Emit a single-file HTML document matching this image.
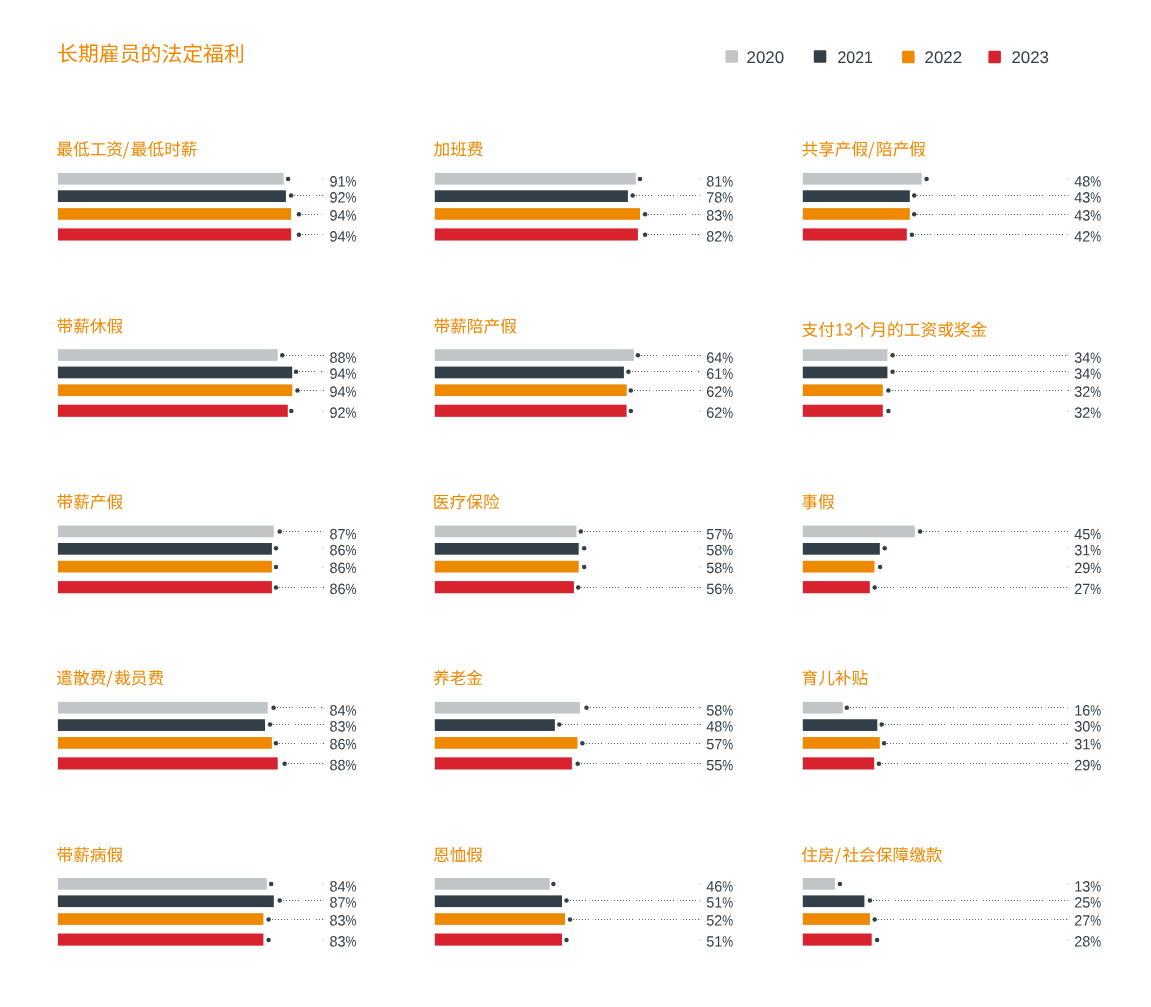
<!DOCTYPE html>
<html lang="zh-CN">
<head>
<meta charset="utf-8">
<title>长期雇员的法定福利</title>
<style>
html,body{margin:0;padding:0;background:#fff}
body{width:1151px;height:1007px;overflow:hidden}
svg{display:block;position:absolute;left:0;top:0}
text{font-family:"Liberation Sans","Noto Sans CJK SC",sans-serif}
.h1{font-size:20.87px;fill:#ee8903}
.h3{font-size:16.7px;fill:#ee8903}
.nat{font-size:16.7px}
.nat .num{font-size:17.5px}
.lg{font-size:16.9px;fill:#323e48}
.v{font-size:14.9px;fill:#323e48}
.dot{fill:#323e48}
.ln{stroke:#323e48;stroke-width:1;stroke-dasharray:1 2 1 2 1 2 1 2 1 2 1 6;fill:none;opacity:.82}
.lf{stroke:#323e48;stroke-width:1;stroke-dasharray:1 21;stroke-dashoffset:3;fill:none;opacity:.2}
.sl{font-family:"Noto Sans CJK SC",sans-serif;font-size:16.8px}
.tick{fill:#323e48;opacity:.22}
</style>
</head>
<body>
<svg width="1151" height="1007" viewBox="0 0 1151 1007">
<rect width="1151" height="1007" fill="#fff"/>
<text class="h1" transform="matrix(1 .001 0 1 57.1 61.1)">长期雇员的法定福利</text>
<g id="legend">
<rect x="725.5" y="50.3" width="12.5" height="12.5" rx="1.3" fill="#c1c5c8"/><text class="lg" transform="matrix(1 .001 0 1 746.5 63)">2020</text>
<rect x="813.8" y="50.3" width="12.5" height="12.5" rx="1.3" fill="#323e48"/><text class="lg" transform="matrix(0.9468 .001 0 1 837.4 63)">2021</text>
<rect x="902.1" y="50.7" width="12.5" height="12.5" rx="1.3" fill="#ee8903"/><text class="lg" transform="matrix(1 .001 0 1 924.5 63)">2022</text>
<rect x="988.4" y="50.7" width="12.5" height="12.5" rx="1.3" fill="#d8232f"/><text class="lg" transform="matrix(1 .001 0 1 1011.4 63)">2023</text>
</g>
<g class="chart">
<text class="h3" transform="matrix(1 .001 0 1 56.3 155.2)">最低工资<tspan class="sl" dx="-0.2">/</tspan><tspan x="74.5">最低时薪</tspan></text>
<rect x="57.9" y="172.9" width="225.8" height="11.7" fill="#c1c5c8"/><rect class="tick" x="322.3" y="178.2" width="1.5" height="1.5"/><circle class="dot" cx="288.1" cy="178.9" r="2.25"/><text class="v" transform="matrix(0.9714 .001 0 1 329.4 186.45)">91</text><text class="v" transform="matrix(0.8227 .001 0 1 345.5 186.45)">%</text>
<rect x="57.9" y="190.3" width="228" height="11.7" fill="#323e48"/><path class="ln" d="M294 195.5H324"/><path class="lf" d="M294 195.5H324"/><rect class="tick" x="322.3" y="194.8" width="1.5" height="1.5"/><circle class="dot" cx="291.1" cy="195.5" r="2.25"/><text class="v" transform="matrix(0.9714 .001 0 1 329.4 202.5)">92</text><text class="v" transform="matrix(0.8227 .001 0 1 345.5 202.5)">%</text>
<rect x="57.9" y="208.1" width="233.2" height="11.7" fill="#ee8903"/><path class="ln" d="M302 214.5H324"/><path class="lf" d="M302 214.5H324"/><rect class="tick" x="322.3" y="213.6" width="1.5" height="1.5"/><circle class="dot" cx="298.9" cy="214.3" r="2.25"/><text class="v" transform="matrix(0.9714 .001 0 1 329.4 220.4)">94</text><text class="v" transform="matrix(0.8227 .001 0 1 345.5 220.4)">%</text>
<rect x="57.9" y="228.4" width="233.2" height="12.15" fill="#d8232f"/><path class="ln" d="M302 234.5H324"/><path class="lf" d="M302 234.5H324"/><rect class="tick" x="322.3" y="234.1" width="1.5" height="1.5"/><circle class="dot" cx="298.9" cy="234.8" r="2.25"/><text class="v" transform="matrix(0.9714 .001 0 1 329.4 241.4)">94</text><text class="v" transform="matrix(0.8227 .001 0 1 345.5 241.4)">%</text>
</g>
<g class="chart">
<text class="h3" transform="matrix(1 .001 0 1 433.45 155.2)">加班费</text>
<rect x="434.8" y="172.9" width="201" height="11.7" fill="#c1c5c8"/><rect class="tick" x="699" y="178.2" width="1.5" height="1.5"/><circle class="dot" cx="640" cy="178.9" r="2.25"/><text class="v" transform="matrix(0.9714 .001 0 1 706.2 186.45)">81</text><text class="v" transform="matrix(0.8227 .001 0 1 722.3 186.45)">%</text>
<rect x="434.8" y="190.3" width="193.1" height="11.7" fill="#323e48"/><path class="ln" d="M636 195.5H701"/><path class="lf" d="M636 195.5H701"/><rect class="tick" x="699" y="194.8" width="1.5" height="1.5"/><circle class="dot" cx="632.7" cy="195.5" r="2.25"/><text class="v" transform="matrix(0.9714 .001 0 1 706.2 202.5)">78</text><text class="v" transform="matrix(0.8227 .001 0 1 722.3 202.5)">%</text>
<rect x="434.8" y="208.1" width="205.2" height="11.7" fill="#ee8903"/><path class="ln" d="M648 214.5H701"/><path class="lf" d="M648 214.5H701"/><rect class="tick" x="699" y="213.6" width="1.5" height="1.5"/><circle class="dot" cx="645.1" cy="214.3" r="2.25"/><text class="v" transform="matrix(0.9714 .001 0 1 706.2 220.4)">83</text><text class="v" transform="matrix(0.8227 .001 0 1 722.3 220.4)">%</text>
<rect x="434.8" y="228.4" width="203.1" height="12.15" fill="#d8232f"/><path class="ln" d="M648 234.5H701"/><path class="lf" d="M648 234.5H701"/><rect class="tick" x="699" y="234.1" width="1.5" height="1.5"/><circle class="dot" cx="645.1" cy="234.8" r="2.25"/><text class="v" transform="matrix(0.9714 .001 0 1 706.2 241.4)">82</text><text class="v" transform="matrix(0.8227 .001 0 1 722.3 241.4)">%</text>
</g>
<g class="chart">
<text class="h3" transform="matrix(1 .001 0 1 801.45 155.2)">共享产假<tspan class="sl" dx="-0.2">/</tspan><tspan x="74.5">陪产假</tspan></text>
<rect x="802.8" y="172.9" width="118.8" height="11.7" fill="#c1c5c8"/><rect class="tick" x="1067" y="178.2" width="1.5" height="1.5"/><circle class="dot" cx="926.6" cy="178.9" r="2.25"/><text class="v" transform="matrix(0.9714 .001 0 1 1074.2 186.45)">48</text><text class="v" transform="matrix(0.8227 .001 0 1 1090.3 186.45)">%</text>
<rect x="802.8" y="190.3" width="107" height="11.7" fill="#323e48"/><path class="ln" d="M917 195.5H1069"/><path class="lf" d="M917 195.5H1069"/><rect class="tick" x="1067" y="194.8" width="1.5" height="1.5"/><circle class="dot" cx="914.2" cy="195.5" r="2.25"/><text class="v" transform="matrix(0.9714 .001 0 1 1074.2 202.5)">43</text><text class="v" transform="matrix(0.8227 .001 0 1 1090.3 202.5)">%</text>
<rect x="802.8" y="208.1" width="107" height="11.7" fill="#ee8903"/><path class="ln" d="M917 214.5H1069"/><path class="lf" d="M917 214.5H1069"/><rect class="tick" x="1067" y="213.6" width="1.5" height="1.5"/><circle class="dot" cx="914.2" cy="214.3" r="2.25"/><text class="v" transform="matrix(0.9714 .001 0 1 1074.2 220.4)">43</text><text class="v" transform="matrix(0.8227 .001 0 1 1090.3 220.4)">%</text>
<rect x="802.8" y="228.4" width="104" height="12.15" fill="#d8232f"/><path class="ln" d="M915 234.5H1069"/><path class="lf" d="M915 234.5H1069"/><rect class="tick" x="1067" y="234.1" width="1.5" height="1.5"/><circle class="dot" cx="911.9" cy="234.8" r="2.25"/><text class="v" transform="matrix(0.9714 .001 0 1 1074.2 241.4)">42</text><text class="v" transform="matrix(0.8227 .001 0 1 1090.3 241.4)">%</text>
</g>
<g class="chart">
<text class="h3" transform="matrix(1 .001 0 1 56.5 332.15)">带薪休假</text>
<rect x="57.9" y="349.2" width="219.8" height="11.7" fill="#c1c5c8"/><path class="ln" d="M286 355.5H324"/><path class="lf" d="M286 355.5H324"/><rect class="tick" x="322.3" y="354.5" width="1.5" height="1.5"/><circle class="dot" cx="282.3" cy="355.2" r="2.25"/><text class="v" transform="matrix(0.9714 .001 0 1 329.4 362.75)">88</text><text class="v" transform="matrix(0.8227 .001 0 1 345.5 362.75)">%</text>
<rect x="57.9" y="366.6" width="234.3" height="11.7" fill="#323e48"/><path class="ln" d="M299 371.5H324"/><path class="lf" d="M299 371.5H324"/><rect class="tick" x="322.3" y="371.1" width="1.5" height="1.5"/><circle class="dot" cx="296" cy="371.8" r="2.25"/><text class="v" transform="matrix(0.9714 .001 0 1 329.4 378.8)">94</text><text class="v" transform="matrix(0.8227 .001 0 1 345.5 378.8)">%</text>
<rect x="57.9" y="384.4" width="234.4" height="11.7" fill="#ee8903"/><path class="ln" d="M301 390.5H324"/><path class="lf" d="M301 390.5H324"/><rect class="tick" x="322.3" y="389.9" width="1.5" height="1.5"/><circle class="dot" cx="297.5" cy="390.6" r="2.25"/><text class="v" transform="matrix(0.9714 .001 0 1 329.4 396.7)">94</text><text class="v" transform="matrix(0.8227 .001 0 1 345.5 396.7)">%</text>
<rect x="57.9" y="404.7" width="229.9" height="12.15" fill="#d8232f"/><rect class="tick" x="322.3" y="410.4" width="1.5" height="1.5"/><circle class="dot" cx="291.3" cy="411.1" r="2.25"/><text class="v" transform="matrix(0.9714 .001 0 1 329.4 417.7)">92</text><text class="v" transform="matrix(0.8227 .001 0 1 345.5 417.7)">%</text>
</g>
<g class="chart">
<text class="h3" transform="matrix(1 .001 0 1 433.45 332.15)">带薪陪产假</text>
<rect x="434.8" y="349.2" width="199.1" height="11.7" fill="#c1c5c8"/><path class="ln" d="M641 355.5H701"/><path class="lf" d="M641 355.5H701"/><rect class="tick" x="699" y="354.5" width="1.5" height="1.5"/><circle class="dot" cx="637.9" cy="355.2" r="2.25"/><text class="v" transform="matrix(0.9714 .001 0 1 706.2 362.75)">64</text><text class="v" transform="matrix(0.8227 .001 0 1 722.3 362.75)">%</text>
<rect x="434.8" y="366.6" width="189.1" height="11.7" fill="#323e48"/><path class="ln" d="M632 371.5H701"/><path class="lf" d="M632 371.5H701"/><rect class="tick" x="699" y="371.1" width="1.5" height="1.5"/><circle class="dot" cx="628.4" cy="371.8" r="2.25"/><text class="v" transform="matrix(0.9714 .001 0 1 706.2 378.8)">61</text><text class="v" transform="matrix(0.8227 .001 0 1 722.3 378.8)">%</text>
<rect x="434.8" y="384.4" width="191.9" height="11.7" fill="#ee8903"/><path class="ln" d="M634 390.5H701"/><path class="lf" d="M634 390.5H701"/><rect class="tick" x="699" y="389.9" width="1.5" height="1.5"/><circle class="dot" cx="630.8" cy="390.6" r="2.25"/><text class="v" transform="matrix(0.9714 .001 0 1 706.2 396.7)">62</text><text class="v" transform="matrix(0.8227 .001 0 1 722.3 396.7)">%</text>
<rect x="434.8" y="404.7" width="191.8" height="12.15" fill="#d8232f"/><rect class="tick" x="699" y="410.4" width="1.5" height="1.5"/><circle class="dot" cx="630.8" cy="411.1" r="2.25"/><text class="v" transform="matrix(0.9714 .001 0 1 706.2 417.7)">62</text><text class="v" transform="matrix(0.8227 .001 0 1 722.3 417.7)">%</text>
</g>
<g class="chart">
<g class="h3 nat"><text transform="matrix(1 .001 0 1 801.6 335.65)">支付</text><text class="num" transform="matrix(.9 .001 0 1 835.3 335.55)">13</text><text transform="matrix(1 .001 0 1 853.7 335.65)">个月的工资或奖金</text></g>
<rect x="802.8" y="349.2" width="84.6" height="11.7" fill="#c1c5c8"/><path class="ln" d="M896 355.5H1069"/><path class="lf" d="M896 355.5H1069"/><rect class="tick" x="1067" y="354.5" width="1.5" height="1.5"/><circle class="dot" cx="892.6" cy="355.2" r="2.25"/><text class="v" transform="matrix(0.9714 .001 0 1 1074.2 362.75)">34</text><text class="v" transform="matrix(0.8227 .001 0 1 1090.3 362.75)">%</text>
<rect x="802.8" y="366.6" width="84.6" height="11.7" fill="#323e48"/><path class="ln" d="M896 371.5H1069"/><path class="lf" d="M896 371.5H1069"/><rect class="tick" x="1067" y="371.1" width="1.5" height="1.5"/><circle class="dot" cx="892.6" cy="371.8" r="2.25"/><text class="v" transform="matrix(0.9714 .001 0 1 1074.2 378.8)">34</text><text class="v" transform="matrix(0.8227 .001 0 1 1090.3 378.8)">%</text>
<rect x="802.8" y="384.4" width="80" height="11.7" fill="#ee8903"/><path class="ln" d="M892 390.5H1069"/><path class="lf" d="M892 390.5H1069"/><rect class="tick" x="1067" y="389.9" width="1.5" height="1.5"/><circle class="dot" cx="888.4" cy="390.6" r="2.25"/><text class="v" transform="matrix(0.9714 .001 0 1 1074.2 396.7)">32</text><text class="v" transform="matrix(0.8227 .001 0 1 1090.3 396.7)">%</text>
<rect x="802.8" y="404.7" width="80" height="12.15" fill="#d8232f"/><rect class="tick" x="1067" y="410.4" width="1.5" height="1.5"/><circle class="dot" cx="888.4" cy="411.1" r="2.25"/><text class="v" transform="matrix(0.9714 .001 0 1 1074.2 417.7)">32</text><text class="v" transform="matrix(0.8227 .001 0 1 1090.3 417.7)">%</text>
</g>
<g class="chart">
<text class="h3" transform="matrix(1 .001 0 1 56.5 507.95)">带薪产假</text>
<rect x="57.9" y="525.6" width="215.9" height="11.7" fill="#c1c5c8"/><path class="ln" d="M283 531.5H324"/><path class="lf" d="M283 531.5H324"/><rect class="tick" x="322.3" y="530.9" width="1.5" height="1.5"/><circle class="dot" cx="279.7" cy="531.6" r="2.25"/><text class="v" transform="matrix(0.9714 .001 0 1 329.4 539.15)">87</text><text class="v" transform="matrix(0.8227 .001 0 1 345.5 539.15)">%</text>
<rect x="57.9" y="543" width="214" height="11.7" fill="#323e48"/><rect class="tick" x="322.3" y="547.5" width="1.5" height="1.5"/><circle class="dot" cx="276" cy="548.2" r="2.25"/><text class="v" transform="matrix(0.9714 .001 0 1 329.4 555.2)">86</text><text class="v" transform="matrix(0.8227 .001 0 1 345.5 555.2)">%</text>
<rect x="57.9" y="560.8" width="214" height="11.7" fill="#ee8903"/><rect class="tick" x="322.3" y="566.3" width="1.5" height="1.5"/><circle class="dot" cx="276" cy="567" r="2.25"/><text class="v" transform="matrix(0.9714 .001 0 1 329.4 573.1)">86</text><text class="v" transform="matrix(0.8227 .001 0 1 345.5 573.1)">%</text>
<rect x="57.9" y="581.1" width="214" height="12.15" fill="#d8232f"/><path class="ln" d="M279 587.5H324"/><path class="lf" d="M279 587.5H324"/><rect class="tick" x="322.3" y="586.8" width="1.5" height="1.5"/><circle class="dot" cx="276" cy="587.5" r="2.25"/><text class="v" transform="matrix(0.9714 .001 0 1 329.4 594.1)">86</text><text class="v" transform="matrix(0.8227 .001 0 1 345.5 594.1)">%</text>
</g>
<g class="chart">
<text class="h3" transform="matrix(1 .001 0 1 432.85 507.95)">医疗保险</text>
<rect x="434.8" y="525.6" width="141.6" height="11.7" fill="#c1c5c8"/><path class="ln" d="M584 531.5H701"/><path class="lf" d="M584 531.5H701"/><rect class="tick" x="699" y="530.9" width="1.5" height="1.5"/><circle class="dot" cx="580.8" cy="531.6" r="2.25"/><text class="v" transform="matrix(0.9714 .001 0 1 706.2 539.15)">57</text><text class="v" transform="matrix(0.8227 .001 0 1 722.3 539.15)">%</text>
<rect x="434.8" y="543" width="143.9" height="11.7" fill="#323e48"/><rect class="tick" x="699" y="547.5" width="1.5" height="1.5"/><circle class="dot" cx="584.2" cy="548.2" r="2.25"/><text class="v" transform="matrix(0.9714 .001 0 1 706.2 555.2)">58</text><text class="v" transform="matrix(0.8227 .001 0 1 722.3 555.2)">%</text>
<rect x="434.8" y="560.8" width="143.9" height="11.7" fill="#ee8903"/><rect class="tick" x="699" y="566.3" width="1.5" height="1.5"/><circle class="dot" cx="584.2" cy="567" r="2.25"/><text class="v" transform="matrix(0.9714 .001 0 1 706.2 573.1)">58</text><text class="v" transform="matrix(0.8227 .001 0 1 722.3 573.1)">%</text>
<rect x="434.8" y="581.1" width="139.1" height="12.15" fill="#d8232f"/><path class="ln" d="M581 587.5H701"/><path class="lf" d="M581 587.5H701"/><rect class="tick" x="699" y="586.8" width="1.5" height="1.5"/><circle class="dot" cx="578.2" cy="587.5" r="2.25"/><text class="v" transform="matrix(0.9714 .001 0 1 706.2 594.1)">56</text><text class="v" transform="matrix(0.8227 .001 0 1 722.3 594.1)">%</text>
</g>
<g class="chart">
<text class="h3" transform="matrix(1 .001 0 1 801.3 507.95)">事假</text>
<rect x="802.8" y="525.6" width="111.9" height="11.7" fill="#c1c5c8"/><path class="ln" d="M923 531.5H1069"/><path class="lf" d="M923 531.5H1069"/><rect class="tick" x="1067" y="530.9" width="1.5" height="1.5"/><circle class="dot" cx="920.1" cy="531.6" r="2.25"/><text class="v" transform="matrix(0.9714 .001 0 1 1074.2 539.15)">45</text><text class="v" transform="matrix(0.8227 .001 0 1 1090.3 539.15)">%</text>
<rect x="802.8" y="543" width="77" height="11.7" fill="#323e48"/><rect class="tick" x="1067" y="547.5" width="1.5" height="1.5"/><circle class="dot" cx="884.7" cy="548.2" r="2.25"/><text class="v" transform="matrix(0.9714 .001 0 1 1074.2 555.2)">31</text><text class="v" transform="matrix(0.8227 .001 0 1 1090.3 555.2)">%</text>
<rect x="802.8" y="560.8" width="71.7" height="11.7" fill="#ee8903"/><rect class="tick" x="1067" y="566.3" width="1.5" height="1.5"/><circle class="dot" cx="880.1" cy="567" r="2.25"/><text class="v" transform="matrix(0.9714 .001 0 1 1074.2 573.1)">29</text><text class="v" transform="matrix(0.8227 .001 0 1 1090.3 573.1)">%</text>
<rect x="802.8" y="581.1" width="67" height="12.15" fill="#d8232f"/><path class="ln" d="M878 587.5H1069"/><path class="lf" d="M878 587.5H1069"/><rect class="tick" x="1067" y="586.8" width="1.5" height="1.5"/><circle class="dot" cx="874.7" cy="587.5" r="2.25"/><text class="v" transform="matrix(0.9714 .001 0 1 1074.2 594.1)">27</text><text class="v" transform="matrix(0.8227 .001 0 1 1090.3 594.1)">%</text>
</g>
<g class="chart">
<text class="h3" transform="matrix(1 .001 0 1 56.3 683.95)">遣散费<tspan class="sl" dx="-0.2">/</tspan><tspan x="57.8">裁员费</tspan></text>
<rect x="57.9" y="701.85" width="209.9" height="11.7" fill="#c1c5c8"/><path class="ln" d="M277 707.5H324"/><path class="lf" d="M277 707.5H324"/><rect class="tick" x="322.3" y="707.15" width="1.5" height="1.5"/><circle class="dot" cx="273.6" cy="707.85" r="2.25"/><text class="v" transform="matrix(0.9714 .001 0 1 329.4 715.4)">84</text><text class="v" transform="matrix(0.8227 .001 0 1 345.5 715.4)">%</text>
<rect x="57.9" y="719.25" width="207.1" height="11.7" fill="#323e48"/><path class="ln" d="M273 724.5H324"/><path class="lf" d="M273 724.5H324"/><rect class="tick" x="322.3" y="723.75" width="1.5" height="1.5"/><circle class="dot" cx="270" cy="724.45" r="2.25"/><text class="v" transform="matrix(0.9714 .001 0 1 329.4 731.45)">83</text><text class="v" transform="matrix(0.8227 .001 0 1 345.5 731.45)">%</text>
<rect x="57.9" y="737.05" width="214" height="11.7" fill="#ee8903"/><path class="ln" d="M279 743.5H324"/><path class="lf" d="M279 743.5H324"/><rect class="tick" x="322.3" y="742.55" width="1.5" height="1.5"/><circle class="dot" cx="275.9" cy="743.25" r="2.25"/><text class="v" transform="matrix(0.9714 .001 0 1 329.4 749.35)">86</text><text class="v" transform="matrix(0.8227 .001 0 1 345.5 749.35)">%</text>
<rect x="57.9" y="757.35" width="219.8" height="12.15" fill="#d8232f"/><path class="ln" d="M288 763.5H324"/><path class="lf" d="M288 763.5H324"/><rect class="tick" x="322.3" y="763.05" width="1.5" height="1.5"/><circle class="dot" cx="284.6" cy="763.75" r="2.25"/><text class="v" transform="matrix(0.9714 .001 0 1 329.4 770.35)">88</text><text class="v" transform="matrix(0.8227 .001 0 1 345.5 770.35)">%</text>
</g>
<g class="chart">
<text class="h3" transform="matrix(1 .001 0 1 433 683.95)">养老金</text>
<rect x="434.8" y="701.85" width="145.1" height="11.7" fill="#c1c5c8"/><path class="ln" d="M590 707.5H701"/><path class="lf" d="M590 707.5H701"/><rect class="tick" x="699" y="707.15" width="1.5" height="1.5"/><circle class="dot" cx="586.5" cy="707.85" r="2.25"/><text class="v" transform="matrix(0.9714 .001 0 1 706.2 715.4)">58</text><text class="v" transform="matrix(0.8227 .001 0 1 722.3 715.4)">%</text>
<rect x="434.8" y="719.25" width="120.1" height="11.7" fill="#323e48"/><path class="ln" d="M562 724.5H701"/><path class="lf" d="M562 724.5H701"/><rect class="tick" x="699" y="723.75" width="1.5" height="1.5"/><circle class="dot" cx="559.3" cy="724.45" r="2.25"/><text class="v" transform="matrix(0.9714 .001 0 1 706.2 731.45)">48</text><text class="v" transform="matrix(0.8227 .001 0 1 722.3 731.45)">%</text>
<rect x="434.8" y="737.05" width="142.7" height="11.7" fill="#ee8903"/><path class="ln" d="M586 743.5H701"/><path class="lf" d="M586 743.5H701"/><rect class="tick" x="699" y="742.55" width="1.5" height="1.5"/><circle class="dot" cx="582.4" cy="743.25" r="2.25"/><text class="v" transform="matrix(0.9714 .001 0 1 706.2 749.35)">57</text><text class="v" transform="matrix(0.8227 .001 0 1 722.3 749.35)">%</text>
<rect x="434.8" y="757.35" width="137.1" height="12.15" fill="#d8232f"/><path class="ln" d="M581 763.5H701"/><path class="lf" d="M581 763.5H701"/><rect class="tick" x="699" y="763.05" width="1.5" height="1.5"/><circle class="dot" cx="577.7" cy="763.75" r="2.25"/><text class="v" transform="matrix(0.9714 .001 0 1 706.2 770.35)">55</text><text class="v" transform="matrix(0.8227 .001 0 1 722.3 770.35)">%</text>
</g>
<g class="chart">
<text class="h3" transform="matrix(1 .001 0 1 801.45 683.95)">育儿补贴</text>
<rect x="802.8" y="701.85" width="40" height="11.7" fill="#c1c5c8"/><path class="ln" d="M850 707.5H1069"/><path class="lf" d="M850 707.5H1069"/><rect class="tick" x="1067" y="707.15" width="1.5" height="1.5"/><circle class="dot" cx="846.8" cy="707.85" r="2.25"/><text class="v" transform="matrix(0.9714 .001 0 1 1074.2 715.4)">16</text><text class="v" transform="matrix(0.8227 .001 0 1 1090.3 715.4)">%</text>
<rect x="802.8" y="719.25" width="74.5" height="11.7" fill="#323e48"/><path class="ln" d="M885 724.5H1069"/><path class="lf" d="M885 724.5H1069"/><rect class="tick" x="1067" y="723.75" width="1.5" height="1.5"/><circle class="dot" cx="881.7" cy="724.45" r="2.25"/><text class="v" transform="matrix(0.9714 .001 0 1 1074.2 731.45)">30</text><text class="v" transform="matrix(0.8227 .001 0 1 1090.3 731.45)">%</text>
<rect x="802.8" y="737.05" width="77" height="11.7" fill="#ee8903"/><path class="ln" d="M887 743.5H1069"/><path class="lf" d="M887 743.5H1069"/><rect class="tick" x="1067" y="742.55" width="1.5" height="1.5"/><circle class="dot" cx="884.1" cy="743.25" r="2.25"/><text class="v" transform="matrix(0.9714 .001 0 1 1074.2 749.35)">31</text><text class="v" transform="matrix(0.8227 .001 0 1 1090.3 749.35)">%</text>
<rect x="802.8" y="757.35" width="71.4" height="12.15" fill="#d8232f"/><path class="ln" d="M882 763.5H1069"/><path class="lf" d="M882 763.5H1069"/><rect class="tick" x="1067" y="763.05" width="1.5" height="1.5"/><circle class="dot" cx="878.9" cy="763.75" r="2.25"/><text class="v" transform="matrix(0.9714 .001 0 1 1074.2 770.35)">29</text><text class="v" transform="matrix(0.8227 .001 0 1 1090.3 770.35)">%</text>
</g>
<g class="chart">
<text class="h3" transform="matrix(1 .001 0 1 56.5 860.95)">带薪病假</text>
<rect x="57.9" y="878" width="208.9" height="11.7" fill="#c1c5c8"/><rect class="tick" x="322.3" y="883.3" width="1.5" height="1.5"/><circle class="dot" cx="271.2" cy="884" r="2.25"/><text class="v" transform="matrix(0.9714 .001 0 1 329.4 891.55)">84</text><text class="v" transform="matrix(0.8227 .001 0 1 345.5 891.55)">%</text>
<rect x="57.9" y="895.4" width="215.9" height="11.7" fill="#323e48"/><path class="ln" d="M283 900.5H324"/><path class="lf" d="M283 900.5H324"/><rect class="tick" x="322.3" y="899.9" width="1.5" height="1.5"/><circle class="dot" cx="279.7" cy="900.6" r="2.25"/><text class="v" transform="matrix(0.9714 .001 0 1 329.4 907.6)">87</text><text class="v" transform="matrix(0.8227 .001 0 1 345.5 907.6)">%</text>
<rect x="57.9" y="913.2" width="205.5" height="11.7" fill="#ee8903"/><path class="ln" d="M272 919.5H324"/><path class="lf" d="M272 919.5H324"/><rect class="tick" x="322.3" y="918.7" width="1.5" height="1.5"/><circle class="dot" cx="268.6" cy="919.4" r="2.25"/><text class="v" transform="matrix(0.9714 .001 0 1 329.4 925.5)">83</text><text class="v" transform="matrix(0.8227 .001 0 1 345.5 925.5)">%</text>
<rect x="57.9" y="933.5" width="205.5" height="12.15" fill="#d8232f"/><rect class="tick" x="322.3" y="939.2" width="1.5" height="1.5"/><circle class="dot" cx="268.6" cy="939.9" r="2.25"/><text class="v" transform="matrix(0.9714 .001 0 1 329.4 946.5)">83</text><text class="v" transform="matrix(0.8227 .001 0 1 345.5 946.5)">%</text>
</g>
<g class="chart">
<text class="h3" transform="matrix(1 .001 0 1 433 860.95)">恩恤假</text>
<rect x="434.8" y="878" width="115" height="11.7" fill="#c1c5c8"/><rect class="tick" x="699" y="883.3" width="1.5" height="1.5"/><circle class="dot" cx="553.4" cy="884" r="2.25"/><text class="v" transform="matrix(0.9714 .001 0 1 706.2 891.55)">46</text><text class="v" transform="matrix(0.8227 .001 0 1 722.3 891.55)">%</text>
<rect x="434.8" y="895.4" width="127.2" height="11.7" fill="#323e48"/><path class="ln" d="M570 900.5H701"/><path class="lf" d="M570 900.5H701"/><rect class="tick" x="699" y="899.9" width="1.5" height="1.5"/><circle class="dot" cx="566.5" cy="900.6" r="2.25"/><text class="v" transform="matrix(0.9714 .001 0 1 706.2 907.6)">51</text><text class="v" transform="matrix(0.8227 .001 0 1 722.3 907.6)">%</text>
<rect x="434.8" y="913.2" width="130.2" height="11.7" fill="#ee8903"/><path class="ln" d="M573 919.5H701"/><path class="lf" d="M573 919.5H701"/><rect class="tick" x="699" y="918.7" width="1.5" height="1.5"/><circle class="dot" cx="570" cy="919.4" r="2.25"/><text class="v" transform="matrix(0.9714 .001 0 1 706.2 925.5)">52</text><text class="v" transform="matrix(0.8227 .001 0 1 722.3 925.5)">%</text>
<rect x="434.8" y="933.5" width="127.2" height="12.15" fill="#d8232f"/><rect class="tick" x="699" y="939.2" width="1.5" height="1.5"/><circle class="dot" cx="566.5" cy="939.9" r="2.25"/><text class="v" transform="matrix(0.9714 .001 0 1 706.2 946.5)">51</text><text class="v" transform="matrix(0.8227 .001 0 1 722.3 946.5)">%</text>
</g>
<g class="chart">
<text class="h3" transform="matrix(1 .001 0 1 801.3 860.95)">住房<tspan class="sl" dx="-0.2">/</tspan><tspan x="41.1">社会保障缴款</tspan></text>
<rect x="802.8" y="878" width="32.2" height="11.7" fill="#c1c5c8"/><rect class="tick" x="1067" y="883.3" width="1.5" height="1.5"/><circle class="dot" cx="839.9" cy="884" r="2.25"/><text class="v" transform="matrix(0.9714 .001 0 1 1074.2 891.55)">13</text><text class="v" transform="matrix(0.8227 .001 0 1 1090.3 891.55)">%</text>
<rect x="802.8" y="895.4" width="61.6" height="11.7" fill="#323e48"/><path class="ln" d="M873 900.5H1069"/><path class="lf" d="M873 900.5H1069"/><rect class="tick" x="1067" y="899.9" width="1.5" height="1.5"/><circle class="dot" cx="869.9" cy="900.6" r="2.25"/><text class="v" transform="matrix(0.9714 .001 0 1 1074.2 907.6)">25</text><text class="v" transform="matrix(0.8227 .001 0 1 1090.3 907.6)">%</text>
<rect x="802.8" y="913.2" width="67.1" height="11.7" fill="#ee8903"/><path class="ln" d="M878 919.5H1069"/><path class="lf" d="M878 919.5H1069"/><rect class="tick" x="1067" y="918.7" width="1.5" height="1.5"/><circle class="dot" cx="874.7" cy="919.4" r="2.25"/><text class="v" transform="matrix(0.9714 .001 0 1 1074.2 925.5)">27</text><text class="v" transform="matrix(0.8227 .001 0 1 1090.3 925.5)">%</text>
<rect x="802.8" y="933.5" width="68.9" height="12.15" fill="#d8232f"/><rect class="tick" x="1067" y="939.2" width="1.5" height="1.5"/><circle class="dot" cx="877.1" cy="939.9" r="2.25"/><text class="v" transform="matrix(0.9714 .001 0 1 1074.2 946.5)">28</text><text class="v" transform="matrix(0.8227 .001 0 1 1090.3 946.5)">%</text>
</g>
</svg>
</body>
</html>
